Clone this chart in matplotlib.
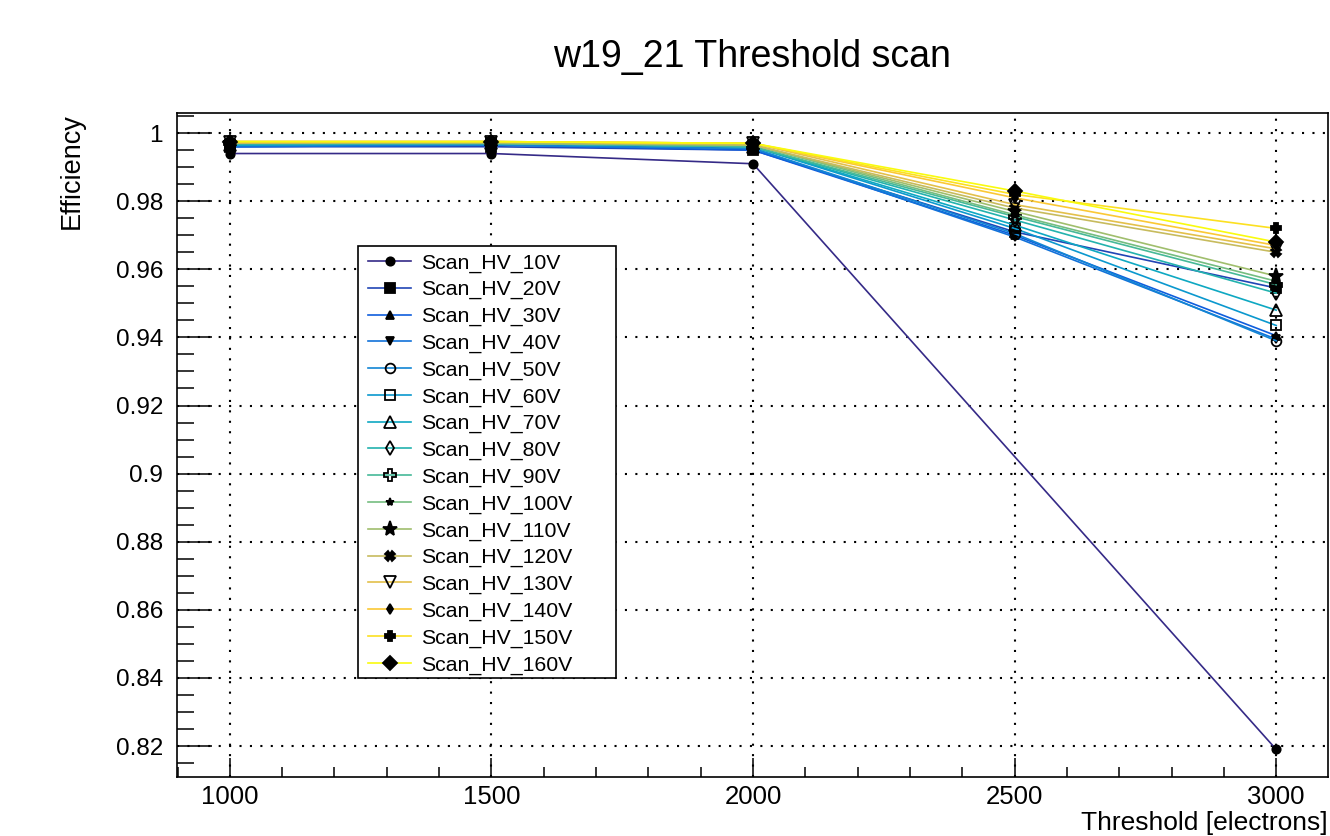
import numpy as np
import matplotlib.pyplot as plt
from matplotlib.colors import LinearSegmentedColormap
from matplotlib.patches import Rectangle
from matplotlib.ticker import MultipleLocator, FuncFormatter

plt.rcParams['font.family'] = ['Liberation Sans', 'DejaVu Sans']

# data
thresholds = [1000, 1500, 2000, 2500, 3000]
thresholds_10 = [1000, 1500, 2000, 3000]   # no point at 2500 for 10V
hv_labels = ['Scan_HV_%dV' % v for v in range(10, 170, 10)]

hv_10 = [0.994, 0.994, 0.991, 0.819]
hv_20 = [0.996, 0.996, 0.995, 0.971, 0.9545]
hv_30 = [0.996, 0.9965, 0.995, 0.970, 0.9405]
hv_40 = [0.996, 0.9965, 0.9955, 0.9695, 0.9395]
hv_50 = [0.9965, 0.9965, 0.9955, 0.9705, 0.939]
hv_60 = [0.9965, 0.997, 0.996, 0.972, 0.9435]
hv_70 = [0.9965, 0.997, 0.996, 0.973, 0.948]
hv_80 = [0.997, 0.997, 0.996, 0.9745, 0.953]
hv_90 = [0.997, 0.997, 0.996, 0.9755, 0.9555]
hv_100 = [0.997, 0.997, 0.9965, 0.976, 0.9565]
hv_110 = [0.997, 0.997, 0.9965, 0.977, 0.958]
hv_120 = [0.997, 0.9975, 0.9965, 0.978, 0.965]
hv_130 = [0.9975, 0.9975, 0.997, 0.979, 0.966]
hv_140 = [0.9975, 0.9975, 0.997, 0.981, 0.967]
hv_150 = [0.9975, 0.9975, 0.997, 0.982, 0.972]
hv_160 = [0.9975, 0.9975, 0.997, 0.983, 0.968]

series = [hv_10, hv_20, hv_30, hv_40, hv_50, hv_60, hv_70, hv_80,
          hv_90, hv_100, hv_110, hv_120, hv_130, hv_140, hv_150, hv_160]
xs = [thresholds_10] + [thresholds] * 15

# ROOT kBird palette
bird_r = [0.2082, 0.0592, 0.0780, 0.0232, 0.1802, 0.5301, 0.8186, 0.9956, 0.9764]
bird_g = [0.1664, 0.3599, 0.5041, 0.6419, 0.7178, 0.7492, 0.7328, 0.7862, 0.9832]
bird_b = [0.5293, 0.8684, 0.8385, 0.7914, 0.6425, 0.4662, 0.3499, 0.1968, 0.0539]
bird = LinearSegmentedColormap.from_list('bird', list(zip(bird_r, bird_g, bird_b)))
colors = [bird(i / 15.0) for i in range(16)]

# marker style per series: (marker, size, filled)
markers = [('o', 6, True), ('s', 7, True), ('^', 6, True), ('v', 6, True),
           ('o', 7, False), ('s', 7, False), ('^', 8, False), ('d', 7, False),
           ('P', 8, False), ('*', 6, True), ('*', 11, True), ('X', 7, True),
           ('v', 8, False), ('d', 5, True), ('P', 7, True), ('D', 7, True)]

fig = plt.figure(figsize=(13.3, 8.36), dpi=100)
ax = fig.add_axes([177 / 1330, 1 - 777 / 836, (1328 - 177) / 1330, (777 - 113) / 836])

for x, vals, col, (m, ms, filled), lab in zip(xs, series, colors, markers, hv_labels):
    ax.plot(x, vals, color=col, lw=1.2, marker=m, ms=ms,
            mfc='black' if filled else 'none', mec='black', mew=1.3, label=lab)

ax.set_xlim(899, 3099)
ax.set_ylim(0.8109, 1.0059)
ax.xaxis.set_major_locator(MultipleLocator(500))
ax.xaxis.set_minor_locator(MultipleLocator(100))
ax.yaxis.set_major_locator(MultipleLocator(0.02))
ax.yaxis.set_minor_locator(MultipleLocator(0.005))
ax.yaxis.set_major_formatter(FuncFormatter(lambda v, p: '%g' % round(v, 3)))

ax.tick_params(axis='both', which='both', direction='in', width=1.1, colors='black')
ax.tick_params(axis='y', which='major', length=25, labelsize=17.5, pad=10)
ax.tick_params(axis='y', which='minor', length=12)
ax.tick_params(axis='x', which='major', length=14, labelsize=18.5, pad=6)
ax.tick_params(axis='x', which='minor', length=7)
ax.grid(True, which='major', color='black', linestyle=(0, (1, 4)), lw=1.5)
for s in ax.spines.values():
    s.set_linewidth(1.2)

fig.text(752 / 1330, 1 - 57 / 836, 'w19_21 Threshold scan', fontsize=27,
         ha='center', va='center')
fig.text(1328 / 1330, 1 - 835 / 836, 'Threshold [electrons]', fontsize=19,
         ha='right', va='bottom')
fig.text(72 / 1330, 1 - 113 / 836, 'Efficiency', fontsize=19.5, rotation=90,
         ha='center', va='top')

# legend box drawn separately so it keeps the fixed ROOT width
box = Rectangle((358 / 1330, 1 - 678 / 836), (616 - 358) / 1330, (678 - 246) / 836,
                transform=fig.transFigure, facecolor='white', edgecolor='black',
                lw=1.2, zorder=4, clip_on=False)
ax.add_patch(box)
leg = ax.legend(loc='upper left', bbox_to_anchor=(362 / 1330, 1 - 247 / 836),
                bbox_transform=fig.transFigure, fontsize=15.3, frameon=False,
                borderaxespad=0, borderpad=0.3, handlelength=2.0,
                handletextpad=0.5, labelspacing=0.355)
leg.set_zorder(5)

fig.savefig('out.png', dpi=100)
